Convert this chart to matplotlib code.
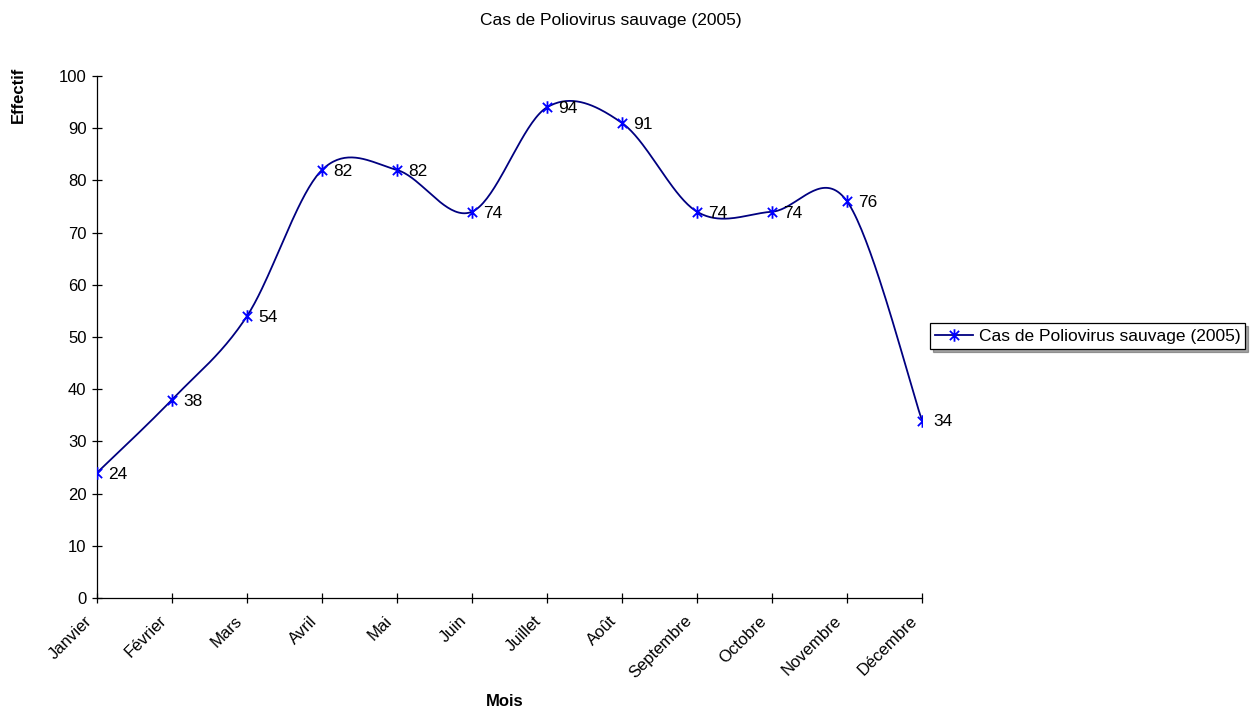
import numpy as np
import matplotlib
matplotlib.use("Agg")
import matplotlib.pyplot as plt
from matplotlib.path import Path
from matplotlib.transforms import ScaledTranslation

plt.rcParams['font.family'] = ['Liberation Sans', 'DejaVu Sans']

months = ["Janvier", "Février", "Mars", "Avril", "Mai", "Juin", "Juillet",
          "Août", "Septembre", "Octobre", "Novembre", "Décembre"]
cases = [24, 38, 54, 82, 82, 74, 94, 91, 74, 74, 76, 34]
series_name = "Cas de Poliovirus sauvage (2005)"
y_ticks = [0, 10, 20, 30, 40, 50, 60, 70, 80, 90, 100]


def smooth_curve(x, y, steps=40):
    """Catmull-Rom style Bezier smoothing through every point."""
    x = np.asarray(x, float)
    y = np.asarray(y, float)
    n = len(x)
    px, py = [], []
    for i in range(n - 1):
        i0 = max(i - 1, 0)
        i3 = min(i + 2, n - 1)
        p0 = np.array([x[i], y[i]])
        p3 = np.array([x[i + 1], y[i + 1]])
        c1 = p0 + (np.array([x[i + 1], y[i + 1]]) - np.array([x[i0], y[i0]])) / 6.0
        c2 = p3 - (np.array([x[i3], y[i3]]) - np.array([x[i], y[i]])) / 6.0
        t = np.linspace(0, 1, steps, endpoint=(i == n - 2))
        b = ((1 - t) ** 3)[:, None] * p0 + (3 * (1 - t) ** 2 * t)[:, None] * c1 \
            + (3 * (1 - t) * t ** 2)[:, None] * c2 + (t ** 3)[:, None] * p3
        px.extend(b[:, 0])
        py.extend(b[:, 1])
    return np.array(px), np.array(py)


# asterisk marker: diagonal cross plus a vertical bar
star = Path([(-1, -1), (1, 1), (-1, 1), (1, -1), (0, -1.35), (0, 1.35)],
            [Path.MOVETO, Path.LINETO, Path.MOVETO, Path.LINETO, Path.MOVETO, Path.LINETO])

fig = plt.figure(figsize=(12.57, 7.13), dpi=100)
ax = fig.add_axes([97 / 1257, 1 - 598 / 713, 825 / 1257, 522 / 713])

xs = np.arange(len(months))
sx, sy = smooth_curve(xs, cases)
ax.plot(sx, sy, color="#000080", lw=1.3, zorder=2)
ax.plot(xs, cases, linestyle="none", marker=star, markersize=9,
        markeredgecolor="#0000FF", markeredgewidth=1.3, zorder=3)

for xi, v in zip(xs, cases):
    ax.annotate(str(v), (xi, v), xytext=(8, -1), textcoords="offset points",
                ha="left", va="center", fontsize=12.5, color="black")

ax.set_xlim(0, len(months) - 1)
ax.set_ylim(0, 100)
ax.set_yticks(y_ticks)
ax.set_xticks(xs)
ax.set_xticklabels(months, rotation=45, ha="right", va="top", rotation_mode="anchor")
ax.tick_params(axis="both", direction="inout", length=7, width=0.9, labelsize=12, pad=4)
ax.tick_params(axis="x", pad=6)
shift = ScaledTranslation(-13 / 100, -2 / 100, fig.dpi_scale_trans)
for lbl in ax.get_xticklabels():
    lbl.set_transform(lbl.get_transform() + shift)
for side in ("top", "right"):
    ax.spines[side].set_visible(False)
for side in ("left", "bottom"):
    ax.spines[side].set_linewidth(0.9)

fig.text(18 / 1257, 1 - 95 / 713, "Effectif", rotation=90, ha="center", va="center",
         fontsize=12, fontweight="bold")
fig.text(505 / 1257, 1 - 702 / 713, "Mois", ha="center", va="center",
         fontsize=12, fontweight="bold")
fig.text(611 / 1257, 1 - 20 / 713, series_name, ha="center", va="center", fontsize=12.5)

handle = plt.Line2D([], [], color="#000080", lw=1.3, marker=star, markersize=9,
                    markeredgecolor="#0000FF", markeredgewidth=1.3)
leg = fig.legend([handle], [series_name], loc="center left",
                 bbox_to_anchor=(930 / 1257, 1 - 336 / 713), fontsize=12.5,
                 frameon=True, fancybox=False, shadow=True, edgecolor="black",
                 framealpha=1, handlelength=2.2, handletextpad=0.3,
                 borderpad=0.3, borderaxespad=0)
leg.get_frame().set_linewidth(0.9)

fig.savefig("out.png", dpi=100)
